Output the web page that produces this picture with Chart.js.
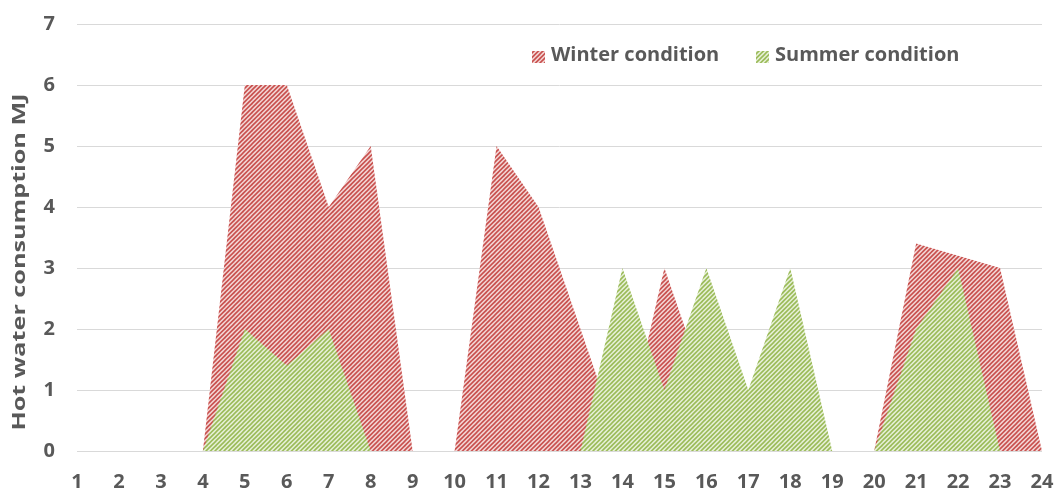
<!DOCTYPE html>
<html>
<head>
<meta charset="utf-8">
<script src="https://cdn.jsdelivr.net/npm/chart.js@4.4.1/dist/chart.umd.min.js"></script>
<style>
  html, body { margin: 0; padding: 0; background: #fff; }
  #chart { display: block; }
</style>
</head>
<body>
<canvas id="chart" width="1059" height="491"></canvas>
<script>
// data
const hours = ['1', '2', '3', '4', '5', '6', '7', '8', '9', '10', '11', '12',
               '13', '14', '15', '16', '17', '18', '19', '20', '21', '22', '23', '24'];
const winterValues = [0, 0, 0, 0, 6, 6, 4, 5, 0, 0, 5, 4, 2, 0, 3, 1, 0, 0, 0, 0, 3.4, 3.2, 3, 0];
const summerValues = [0, 0, 0, 0, 2, 1.4, 2, 0, 0, 0, 0, 0, 0, 3, 1, 3, 1, 3, 0, 0, 2, 3, 0, 0];
const seriesNames = ['Winter condition', 'Summer condition'];
const yTitle = 'Hot water consumption MJ';

const textColor = '#595959';
const fontFamily = '"Open Sans", "DejaVu Sans", sans-serif';

// diagonal hatch pattern like the excel fill
function makeHatch(bg, fg) {
  const tile = document.createElement('canvas');
  tile.width = 9;
  tile.height = 9;
  const t = tile.getContext('2d');
  t.fillStyle = bg;
  t.fillRect(0, 0, 9, 9);
  t.strokeStyle = fg;
  t.lineWidth = 1.6;
  [0, 4.5, 9, 13.5, 18].forEach(c => {
    t.beginPath();
    t.moveTo(c - 10, 10);
    t.lineTo(c + 1, -1);
    t.stroke();
  });
  return t.createPattern(tile, 'repeat');
}

const winterFill = makeHatch('#f4d9d8', '#c8504e');
const summerFill = makeHatch('#e8f1da', '#9bbb59');

// legend and axis title drawn by hand (legend sits inside the plot)
const overlay = {
  id: 'overlay',
  afterDraw(chart) {
    const ctx = chart.ctx;
    const items = [
      { text: seriesNames[0], fill: winterFill, x: 532 },
      { text: seriesNames[1], fill: summerFill, x: 756 }
    ];
    ctx.save();
    ctx.font = 'bold 20px ' + fontFamily;
    ctx.textBaseline = 'middle';
    items.forEach(it => {
      ctx.fillStyle = it.fill;
      ctx.fillRect(it.x, 51, 13, 12);
      ctx.fillStyle = textColor;
      ctx.fillText(it.text, it.x + 19, 55);
    });
    // y title, stretched to the length it has in the reference
    ctx.font = 'bold 17px ' + fontFamily;
    const sx = 337 / ctx.measureText(yTitle).width;
    ctx.translate(20, 262);
    ctx.rotate(-Math.PI / 2);
    ctx.scale(sx, 1);
    ctx.textAlign = 'center';
    ctx.fillText(yTitle, 0, 0);
    ctx.restore();
  }
};

new Chart(document.getElementById('chart'), {
  type: 'line',
  data: {
    labels: hours,
    datasets: [
      {
        label: seriesNames[0],
        data: winterValues,
        fill: 'origin',
        backgroundColor: winterFill,
        borderWidth: 0,
        pointRadius: 0,
        tension: 0,
        order: 2
      },
      {
        label: seriesNames[1],
        data: summerValues,
        fill: 'origin',
        backgroundColor: summerFill,
        borderWidth: 0,
        pointRadius: 0,
        tension: 0,
        order: 1
      }
    ]
  },
  options: {
    responsive: false,
    animation: false,
    layout: { padding: { top: 24, right: 17, bottom: 0, left: 0 } },
    plugins: {
      legend: { display: false },
      tooltip: { enabled: false }
    },
    scales: {
      x: {
        offset: false,
        grid: { display: false },
        border: { display: false },
        ticks: {
          color: textColor,
          // tall line height pushes the labels down without widening the side padding
          font: { family: fontFamily, size: 20, weight: 'bold', lineHeight: 1.9 },
          padding: 4,
          maxRotation: 0,
          autoSkip: false
        },
        afterFit: s => { s.height = 40; }
      },
      y: {
        min: 0,
        max: 7,
        grid: { color: '#d9d9d9', lineWidth: 1, drawTicks: false },
        border: { display: false },
        ticks: {
          stepSize: 1,
          color: textColor,
          // tiny line height so the top label does not push the plot down
          font: { family: fontFamily, size: 20, weight: 'bold', lineHeight: 0.1 },
          padding: 22
        },
        afterFit: s => { s.width = 77; }
      }
    }
  },
  plugins: [overlay]
});
</script>
</body>
</html>
